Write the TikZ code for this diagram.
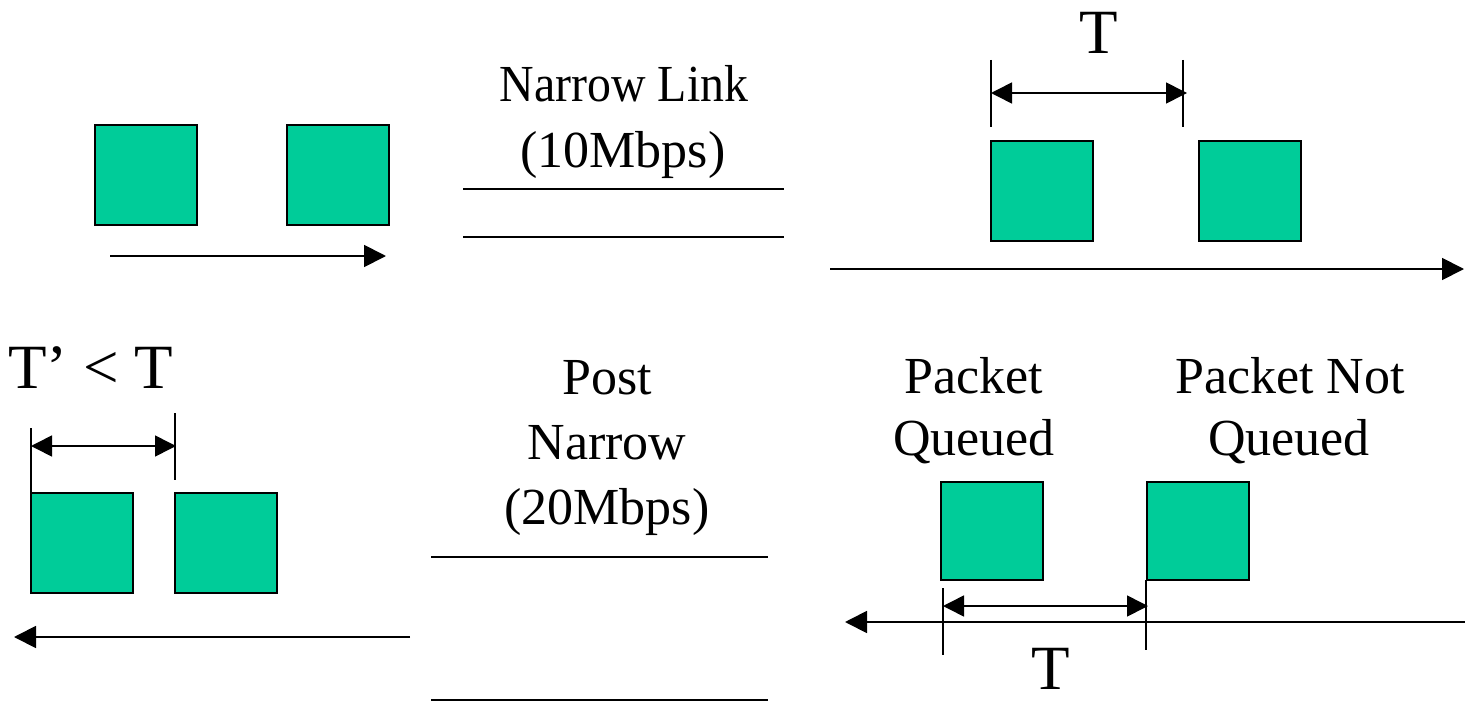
\documentclass[tikz,border=0pt]{standalone}
\usepackage{fontspec}
\setmainfont{Liberation Serif}
\newfontfamily\condfont[FakeStretch=0.92]{Liberation Serif}
\usetikzlibrary{arrows.meta}
\definecolor{pk}{RGB}{0,204,153}
\tikzset{
  pkt/.style={rectangle, draw=black, line width=1.6pt, fill=pk, minimum width=102pt, minimum height=100pt, inner sep=0pt},
  axis/.style={line width=1.8pt, -{Triangle[length=22pt,width=22pt]}},
  span/.style={line width=1.6pt, {Triangle[length=21pt,width=21pt]}-{Triangle[length=21pt,width=21pt]}},
  tick/.style={line width=1.3pt},
  link/.style={line width=1.8pt},
  lbl/.style={inner sep=0pt, anchor=base, font=\fontsize{52}{60}\selectfont},
  tlbl/.style={inner sep=0pt, anchor=base, font=\fontsize{63}{70}\selectfont}
}
\begin{document}
\begin{tikzpicture}[x=1pt,y=-1pt]
\useasboundingbox (0,0) rectangle (1465,701);

% ---------- top left: sender ----------
\node[pkt] (a1) at (146,175) {};
\node[pkt] (a2) at (338,175) {};
\coordinate (a3) at (110,256);
\coordinate (a4) at (386,256);
\draw[axis] (a3) -- (a4);

% ---------- top middle: narrow link ----------
\node[lbl, font=\condfont\fontsize{52}{60}\selectfont] (nl1) at (624,102) {Narrow Link};
\node[lbl] (nl2) at (623,167) {(10Mbps)};
\coordinate (l1a) at (463,189); \coordinate (l1b) at (784,189);
\coordinate (l2a) at (463,237); \coordinate (l2b) at (784,237);
\draw[link] (l1a) -- (l1b);
\draw[link] (l2a) -- (l2b);

% ---------- top right ----------
\node[tlbl] (tT) at (1099,54) {T};
\node[pkt] (b1) at (1042,191) {};
\node[pkt] (b2) at (1250,191) {};
\coordinate (bt1a) at (991,60); \coordinate (bt1b) at (991,127);
\coordinate (bt2a) at (1183,60); \coordinate (bt2b) at (1183,127);
\draw[tick] (bt1a) -- (bt1b);
\draw[tick] (bt2a) -- (bt2b);
\coordinate (bs1) at (991,93); \coordinate (bs2) at (1187,93);
\draw[span] (bs1) -- (bs2);
\coordinate (b3) at (830,269);
\coordinate (b4) at (1464,269);
\draw[axis] (b3) -- (b4);

% ---------- bottom left ----------
\node[tlbl, anchor=base west] (cT) at (8,388) {T’ < T};
\node[pkt] (c1) at (82,543) {};
\node[pkt] (c2) at (226,543) {};
\coordinate (ct1a) at (31,428); \coordinate (ct1b) at (31,493);
\coordinate (ct2a) at (175,413); \coordinate (ct2b) at (175,480);
\draw[tick] (ct1a) -- (ct1b);
\draw[tick] (ct2a) -- (ct2b);
\coordinate (cs1) at (31,446); \coordinate (cs2) at (176,446);
\draw[span] (cs1) -- (cs2);
\coordinate (c3) at (410,637);
\coordinate (c4) at (14,637);
\draw[axis] (c3) -- (c4);

% ---------- bottom middle ----------
\node[lbl] (pn1) at (607,394) {Post};
\node[lbl] (pn2) at (607,459) {Narrow};
\node[lbl] (pn3) at (607,524) {(20Mbps)};
\coordinate (m1a) at (431,557); \coordinate (m1b) at (768,557);
\coordinate (m2a) at (431,700); \coordinate (m2b) at (768,700);
\draw[link] (m1a) -- (m1b);
\draw[link] (m2a) -- (m2b);

% ---------- bottom right ----------
\node[lbl] (pq1) at (974,393) {Packet};
\node[lbl] (pq2) at (974,455) {Queued};
\node[lbl] (pu1) at (1290,393) {Packet Not};
\node[lbl] (pu2) at (1289,455) {Queued};
\node[pkt, minimum height=98pt] (d1) at (992,531) {};
\node[pkt, minimum height=98pt] (d2) at (1198,531) {};
\coordinate (dt1a) at (943,588); \coordinate (dt1b) at (943,655);
\coordinate (dt2a) at (1146,580); \coordinate (dt2b) at (1146,650);
\draw[tick] (dt1a) -- (dt1b);
\draw[tick] (dt2a) -- (dt2b);
\coordinate (ds1) at (943,606); \coordinate (ds2) at (1148,606);
\draw[span] (ds1) -- (ds2);
\coordinate (d3) at (1465,622);
\coordinate (d4) at (845,622);
\draw[axis] (d3) -- (d4);
\node[tlbl] (dT) at (1051,689) {T};
\end{tikzpicture}
\end{document}
